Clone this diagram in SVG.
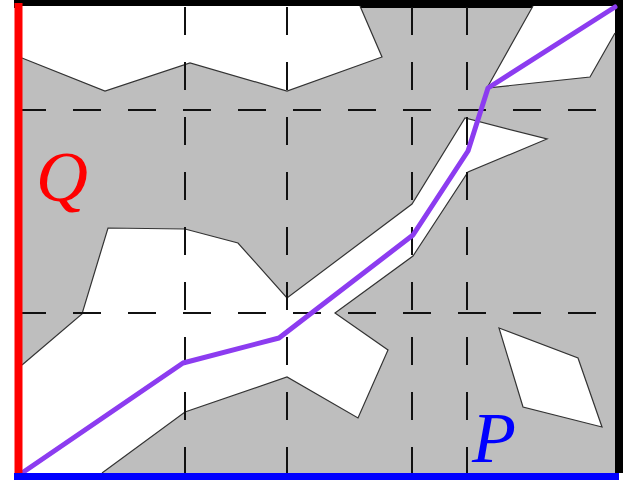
<svg xmlns="http://www.w3.org/2000/svg" width="629" height="481" viewBox="0 0 629 481">
<style>
.free{fill:#ffffff;stroke:none}
.edge{fill:none;stroke:#333333;stroke-width:1.2;stroke-linejoin:miter}
.grid{fill:none;stroke:#111111;stroke-width:2;stroke-dasharray:28 27}
.lbl{font-family:"Liberation Serif",serif;font-style:italic;font-size:72px}
</style>
<rect width="629" height="481" fill="#ffffff"/>
<g id="workspace">
<rect x="18" y="4" width="601" height="472" fill="#bebebe"/>
<line x1="14" y1="4" x2="623" y2="4" stroke="#000" stroke-width="8"/>
<line x1="619" y1="0" x2="619" y2="473" stroke="#000" stroke-width="8"/>
</g>
<g id="free-space">
<g id="region-top-left">
<polygon class="free" points="22,6 22,58 105,91 190,63 287,91 382,57 360,6"/>
<polyline class="edge" points="22,58 105,91 190,63 287,91 382,57 360,6"/>
</g>
<g id="region-top-right">
<polygon class="free" points="533,6 487,88 590,77 615,33 615,6"/>
<polyline class="edge" points="533,6 487,88 590,77 615,33"/>
</g>
<g id="region-corridor">
<polygon class="free" points="22,473 22,365 82,314 108,228 185,229 238,243 287,298 412,204 465,118 547,139 468,172 413,256 335,313 388,350 358,418 287,377 185,412 102,473"/>
<polyline class="edge" points="22,365 82,314 108,228 185,229 238,243 287,298 412,204 465,118 547,139 468,172 413,256 335,313 388,350 358,418 287,377 185,412 102,473"/>
</g>
<g id="region-rhombus">
<polygon class="free" points="499,328 578,358 602,427 523,407"/>
<polygon class="edge" points="499,328 578,358 602,427 523,407"/>
</g>
</g>
<g id="grid">
<line class="grid" x1="185" y1="7" x2="185" y2="473"/>
<line class="grid" x1="287" y1="7" x2="287" y2="473"/>
<line class="grid" x1="412" y1="7" x2="412" y2="473"/>
<line class="grid" x1="467" y1="7" x2="467" y2="473"/>
<line class="grid" x1="18" y1="110" x2="615" y2="110"/>
<line class="grid" x1="18" y1="313" x2="615" y2="313"/>
</g>
<g id="connectors">
<polyline id="path" points="22,473 183,363 279,338 413,235 468,151 488,88 615,7" fill="none" stroke="#8c3cf0" stroke-width="5" stroke-linejoin="round" stroke-linecap="round"/>
</g>
<g id="boundary-Q">
<line x1="18.5" y1="3" x2="18.5" y2="476" stroke="#ff0000" stroke-width="8"/>
<text class="lbl" x="36" y="201" fill="#ff0000">Q</text>
</g>
<g id="boundary-P">
<line x1="14" y1="476.5" x2="619" y2="476.5" stroke="#0000ff" stroke-width="7"/>
<text class="lbl" x="472" y="462" fill="#0000ff">P</text>
</g>
</svg>
